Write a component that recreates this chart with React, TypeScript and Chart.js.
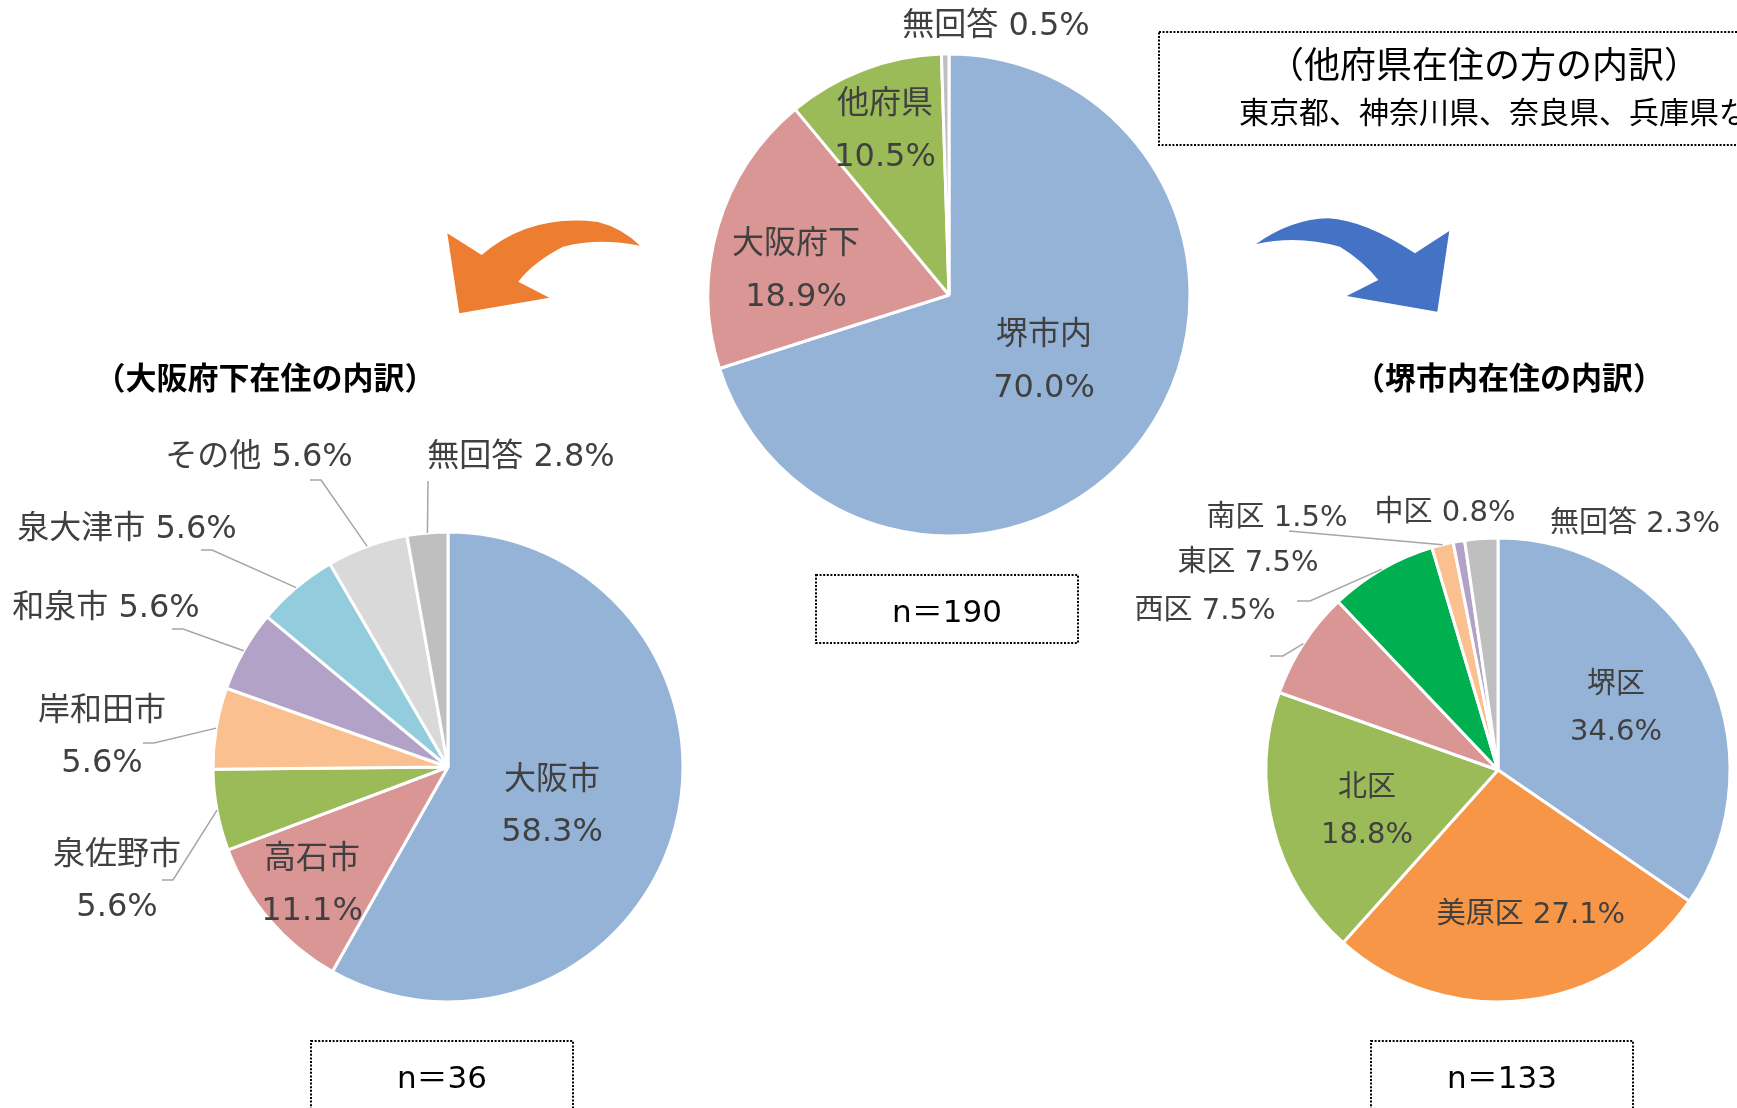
import React, { useEffect, useRef } from "react";
import { Chart, registerables } from "chart.js";

Chart.register(...registerables);

const W = 1737;
const H = 1108;

// ---------------- Data ----------------
const mainCategories = ["堺市内", "大阪府下", "他府県", "無回答"];
const mainPercents = [70.0, 18.9, 10.5, 0.5];
const mainN = 190;

const osakaCategories = ["大阪市", "高石市", "泉佐野市", "岸和田市", "和泉市", "泉大津市", "その他", "無回答"];
const osakaPercents = [58.3, 11.1, 5.6, 5.6, 5.6, 5.6, 5.6, 2.8];
const osakaN = 36;

const sakaiCategories = ["堺区", "美原区", "北区", "西区", "東区", "南区", "中区", "無回答"];
const sakaiPercents = [34.6, 27.1, 18.8, 7.5, 7.5, 1.5, 0.8, 2.3];
const sakaiN = 133;

const osakaTitle = "（大阪府下在住の内訳）";
const sakaiTitle = "（堺市内在住の内訳）";
const otherTitle = "（他府県在住の方の内訳）";
const otherDetail = "東京都、神奈川県、奈良県、兵庫県など";

// ---------------- Styles ----------------
const mainColors = ["#95B3D7", "#D99694", "#9BBB59", "#BFBFBF"];
const osakaColors = ["#95B3D7", "#D99694", "#9BBB59", "#FAC090", "#B3A2C7", "#93CDDD", "#D9D9D9", "#BFBFBF"];
const sakaiColors = ["#95B3D7", "#F79646", "#9BBB59", "#D99694", "#00B050", "#FAC090", "#B3A2C7", "#BFBFBF"];

const LABEL_COLOR = "#404040";
const LEADER_COLOR = "#A6A6A6";
const MIXED_FONT = '"DejaVu Sans", "Noto Sans CJK JP", sans-serif';
const CJK_FONT = '"Noto Sans CJK JP", sans-serif';
const TEXT_DY = 3;

type LabelSpec = { x: number; y: number; split?: boolean; leader?: number[][] };
type PieLayout = { cx: number; cy: number; r: number; font: number; gap: number; labels: LabelSpec[] };

const mainLayout: PieLayout = {
  cx: 949, cy: 295, r: 241, font: 32, gap: 53,
  labels: [
    { x: 1044, y: 333, split: true },
    { x: 796, y: 242, split: true },
    { x: 885, y: 102, split: true },
    { x: 996, y: 24 },
  ],
};

const osakaLayout: PieLayout = {
  cx: 448, cy: 767, r: 235, font: 32, gap: 52,
  labels: [
    { x: 552, y: 778, split: true },
    { x: 312, y: 857, split: true },
    { x: 117, y: 853, split: true, leader: [[162, 880], [173, 880]] },
    { x: 102, y: 709, split: true, leader: [[143, 743], [154, 743]] },
    { x: 106, y: 606, leader: [[172, 629], [183, 629]] },
    { x: 127, y: 527, leader: [[201, 550], [212, 550]] },
    { x: 259, y: 455, leader: [[310, 480], [321, 480]] },
    { x: 521, y: 455, leader: [[428, 481]] },
  ],
};

const sakaiLayout: PieLayout = {
  cx: 1498, cy: 770, r: 232, font: 29, gap: 47,
  labels: [
    { x: 1616, y: 682, split: true },
    { x: 1531, y: 912 },
    { x: 1367, y: 785, split: true },
    { x: 1205, y: 608, leader: [[1270, 656], [1283, 656]] },
    { x: 1248, y: 560, leader: [[1297, 601], [1310, 601]] },
    { x: 1277, y: 515, leader: [[1289, 531]] },
    { x: 1445, y: 510 },
    { x: 1635, y: 521 },
  ],
};

function labelPlugin(layout: PieLayout) {
  return {
    id: "pieLabels",
    afterDatasetsDraw(chart: any) {
      const ctx = chart.ctx as CanvasRenderingContext2D;
      const meta = chart.getDatasetMeta(0);
      const values = chart.data.datasets[0].data as number[];
      const names = chart.data.labels as string[];
      ctx.save();
      meta.data.forEach((arc: any, i: number) => {
        const spec = layout.labels[i];
        if (!spec) return;
        const p = arc.getProps(["x", "y", "startAngle", "endAngle", "outerRadius"], true);
        const mid = (p.startAngle + p.endAngle) / 2;
        if (spec.leader) {
          ctx.beginPath();
          ctx.setLineDash([]);
          ctx.strokeStyle = LEADER_COLOR;
          ctx.lineWidth = 1.5;
          spec.leader.forEach(([lx, ly], k) => (k === 0 ? ctx.moveTo(lx, ly) : ctx.lineTo(lx, ly)));
          ctx.lineTo(p.x + Math.cos(mid) * p.outerRadius, p.y + Math.sin(mid) * p.outerRadius);
          ctx.stroke();
        }
        const pct = Number(values[i]).toFixed(1) + "%";
        ctx.font = `${layout.font}px ${MIXED_FONT}`;
        ctx.fillStyle = LABEL_COLOR;
        ctx.textAlign = "center";
        ctx.textBaseline = "middle";
        if (spec.split) {
          ctx.fillText(names[i], spec.x, spec.y + TEXT_DY);
          ctx.fillText(pct, spec.x, spec.y + layout.gap + TEXT_DY);
        } else {
          ctx.fillText(names[i] + " " + pct, spec.x, spec.y + TEXT_DY);
        }
      });
      ctx.restore();
    },
  };
}

function dottedRect(ctx: CanvasRenderingContext2D, x: number, y: number, w: number, h: number) {
  ctx.save();
  ctx.strokeStyle = "#000";
  ctx.lineWidth = 2;
  ctx.setLineDash([2, 1.6]);
  ctx.strokeRect(x, y, w, h);
  ctx.restore();
}

const decorPlugin = {
  id: "decor",
  afterDraw(chart: any) {
    const ctx = chart.ctx as CanvasRenderingContext2D;
    ctx.save();

    // orange arrow (to the left pie)
    ctx.fillStyle = "#ED7D31";
    ctx.beginPath();
    ctx.moveTo(447.3, 233.3);
    ctx.lineTo(481.7, 255);
    ctx.quadraticCurveTo(530, 213.5, 598, 222);
    ctx.quadraticCurveTo(622, 228, 640, 245.7);
    ctx.quadraticCurveTo(598.5, 237.2, 563, 246.7);
    ctx.quadraticCurveTo(532.8, 262.4, 518.3, 281.7);
    ctx.lineTo(549.3, 297.7);
    ctx.lineTo(459.3, 313.3);
    ctx.closePath();
    ctx.fill();

    // blue arrow (to the right pie)
    ctx.fillStyle = "#4472C4";
    ctx.beginPath();
    ctx.moveTo(1256, 244);
    ctx.quadraticCurveTo(1291.9, 218.9, 1328.3, 218.3);
    ctx.quadraticCurveTo(1364.4, 220.2, 1415, 253.3);
    ctx.lineTo(1449.3, 231);
    ctx.lineTo(1437.3, 311.7);
    ctx.lineTo(1346.7, 296);
    ctx.lineTo(1378.3, 280);
    ctx.quadraticCurveTo(1362.9, 260.7, 1340, 246.7);
    ctx.quadraticCurveTo(1298, 234.7, 1256, 244);
    ctx.closePath();
    ctx.fill();

    // titles
    ctx.fillStyle = "#000";
    ctx.textAlign = "center";
    ctx.textBaseline = "middle";
    ctx.font = `bold 31px ${CJK_FONT}`;
    ctx.fillText(osakaTitle, 265, 377);
    ctx.fillText(sakaiTitle, 1509, 377);

    // other-prefecture note box
    dottedRect(ctx, 1159, 32, 700, 113);
    ctx.font = `36px ${CJK_FONT}`;
    ctx.fillText(otherTitle, 1484, 64);
    ctx.textAlign = "left";
    ctx.font = `30px ${CJK_FONT}`;
    ctx.fillText(otherDetail, 1239, 112);

    // n boxes
    ctx.textAlign = "center";
    ctx.font = `31px ${MIXED_FONT}`;
    dottedRect(ctx, 816, 575, 262, 68);
    ctx.fillText("n＝" + mainN, 947, 611 + TEXT_DY);
    dottedRect(ctx, 311, 1041, 262, 100);
    ctx.fillText("n＝" + osakaN, 442, 1077 + TEXT_DY);
    dottedRect(ctx, 1371, 1041, 262, 100);
    ctx.fillText("n＝" + sakaiN, 1502, 1077 + TEXT_DY);

    ctx.restore();
  },
};

function pieConfig(categories: string[], values: number[], colors: string[], layout: PieLayout, extra: any[]) {
  return {
    type: "pie" as const,
    data: {
      labels: categories,
      datasets: [
        {
          data: values,
          backgroundColor: colors,
          borderColor: "#FFFFFF",
          borderWidth: 3,
          radius: layout.r,
        },
      ],
    },
    options: {
      responsive: false,
      animation: false as const,
      devicePixelRatio: 1,
      events: [],
      layout: {
        padding: {
          left: layout.cx - layout.r,
          top: layout.cy - layout.r,
          right: W - layout.cx - layout.r,
          bottom: H - layout.cy - layout.r,
        },
      },
      plugins: { legend: { display: false }, tooltip: { enabled: false } },
    },
    plugins: [labelPlugin(layout), ...extra],
  };
}

export default function App() {
  const refA = useRef<HTMLCanvasElement>(null);
  const refB = useRef<HTMLCanvasElement>(null);
  const refC = useRef<HTMLCanvasElement>(null);

  useEffect(() => {
    const charts: Chart[] = [];
    if (refA.current) charts.push(new Chart(refA.current, pieConfig(mainCategories, mainPercents, mainColors, mainLayout, [decorPlugin]) as any));
    if (refB.current) charts.push(new Chart(refB.current, pieConfig(osakaCategories, osakaPercents, osakaColors, osakaLayout, []) as any));
    if (refC.current) charts.push(new Chart(refC.current, pieConfig(sakaiCategories, sakaiPercents, sakaiColors, sakaiLayout, []) as any));
    return () => charts.forEach((c) => c.destroy());
  }, []);

  const cs: React.CSSProperties = { position: "absolute", left: 0, top: 0, width: W, height: H };
  return (
    <div style={{ position: "fixed", left: 0, top: 0, width: W, height: H, background: "#FFFFFF", overflow: "hidden" }}>
      <canvas ref={refA} width={W} height={H} style={cs} />
      <canvas ref={refB} width={W} height={H} style={cs} />
      <canvas ref={refC} width={W} height={H} style={cs} />
    </div>
  );
}
